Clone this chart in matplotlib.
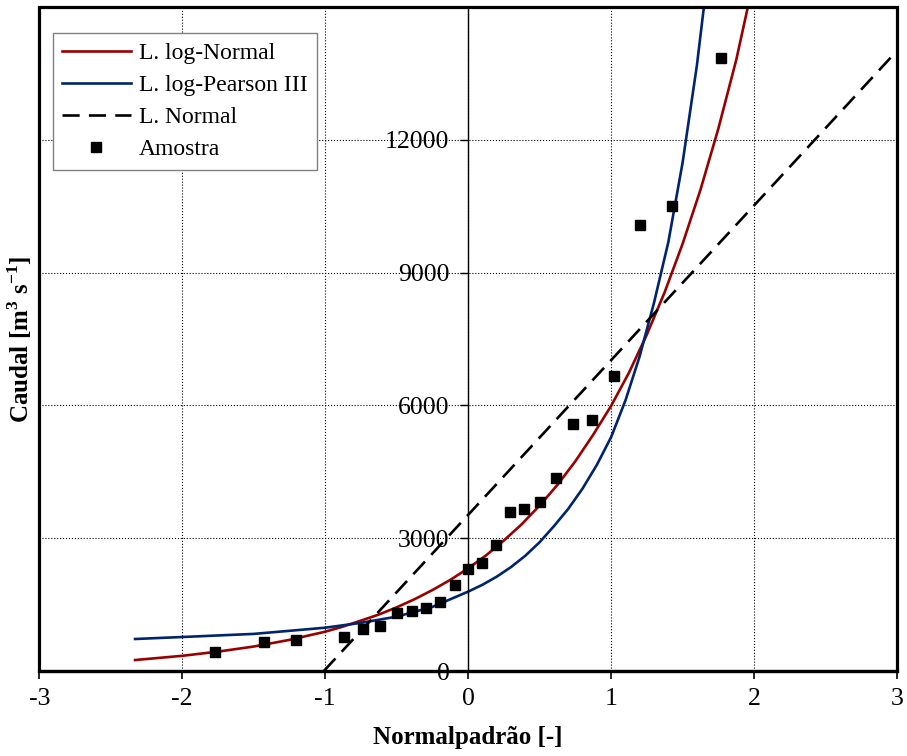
import numpy as np
import matplotlib
matplotlib.use("Agg")
import matplotlib.pyplot as plt
from matplotlib.patches import Rectangle

plt.rcParams['font.family'] = ['Liberation Serif', 'DejaVu Serif']
plt.rcParams['mathtext.fontset'] = 'custom'
plt.rcParams['mathtext.rm'] = 'Liberation Serif'
plt.rcParams['mathtext.bf'] = 'Liberation Serif:bold'
plt.rcParams['axes.unicode_minus'] = False

# ============================================
# DADOS
# ============================================
# Amostra: variavel normal padrao vs caudal
z_amostra = [-1.771, -1.426, -1.203, -0.871, -0.736, -0.617, -0.500, -0.395,
             -0.295, -0.197, -0.094, 0.0, 0.097, 0.192, 0.295, 0.392, 0.502,
             0.615, 0.735, 0.868, 1.020, 1.200, 1.428, 1.771]
q_amostra = [425, 651, 696, 764, 944, 1019, 1319, 1365,
             1419, 1568, 1952, 2300, 2436, 2842, 3588, 3656, 3827,
             4350, 5576, 5673, 6667, 10072, 10508, 13846]

# Lei log-Normal
z_lognormal = [-2.33, -2.0, -1.75, -1.5, -1.25, -1.0, -0.875, -0.75, -0.625,
               -0.5, -0.375, -0.25, -0.125, 0.0, 0.125, 0.25, 0.375, 0.5,
               0.625, 0.75, 0.875, 1.0, 1.125, 1.25, 1.375, 1.5, 1.625, 1.75,
               1.875, 1.96]
q_lognormal = [250, 345, 440, 555, 705, 890, 1006, 1140, 1277,
               1440, 1623, 1830, 2060, 2320, 2613, 2950, 3318, 3740,
               4207, 4740, 5340, 5990, 6740, 7600, 8560, 9650, 10870, 12250,
               13800, 15050]

# Lei log-Pearson III
z_lp3 = [-2.33, -2.0, -1.5, -1.0, -0.75, -0.5, -0.25, 0.0, 0.1, 0.2,
         0.3, 0.4, 0.5, 0.6, 0.7, 0.8, 0.9, 1.0, 1.1, 1.2,
         1.3, 1.4, 1.5, 1.6, 1.7]
q_lp3 = [725, 770, 840, 980, 1090, 1230, 1450, 1795, 1950, 2133,
         2350, 2606, 2911, 3273, 3664, 4121, 4656, 5284, 6109, 7112,
         8318, 9683, 11482, 13677, 16368]

# Lei Normal (recta)
z_normal = [-1.01, 3.0]
q_normal = [0, 14010]

# ============================================
# GRAFICO
# ============================================
fig = plt.figure(figsize=(9.07, 7.56), dpi=100)
ax = fig.add_axes([0.0433, 0.1123, 0.9457, 0.8785])

ax.plot(z_lognormal, q_lognormal, color='#990000', lw=1.9, label='L. log-Normal')
ax.plot(z_lp3, q_lp3, color='#00256e', lw=1.9, label='L. log-Pearson III')
ax.plot(z_normal, q_normal, color='black', lw=1.9, dashes=(6.5, 3.5), label='L. Normal')
ax.plot(z_amostra, q_amostra, 's', color='black', ms=7.5, label='Amostra', zorder=5)

ax.set_xlim(-3, 3)
ax.set_ylim(0, 15000)
ax.set_xticks([-3, -2, -1, 0, 1, 2, 3])
ax.set_yticks([0, 3000, 6000, 9000, 12000])

ax.grid(True, linestyle=':', color='black', lw=0.8)
ax.set_axisbelow(True)

# eixo y passa em x = 0
ax.spines['left'].set_position(('data', 0))
ax.spines['left'].set_linewidth(1.0)
ax.spines['top'].set_visible(False)
ax.spines['right'].set_visible(False)
ax.spines['bottom'].set_linewidth(2.3)
ax.add_patch(Rectangle((0, 0), 1, 1, transform=ax.transAxes, fill=False,
                       lw=2.3, edgecolor='black', clip_on=False, zorder=10))

ax.tick_params(axis='y', direction='out', length=5.5, width=1, pad=8, labelsize=18.5)
ax.tick_params(axis='x', direction='out', length=5.5, width=1.2, pad=7, labelsize=18.5)

fig.text(0.516, 0.024, 'Normalpadrão [-]', ha='center', va='center',
         fontsize=18, fontweight='bold')
fig.text(0.022, 0.551, r'Caudal [m$^{\mathbf{3}}$ s$^{\mathbf{-1}}$]', ha='center',
         va='center', rotation=90, fontsize=18, fontweight='bold')

leg = ax.legend(loc='upper left', bbox_to_anchor=(0.0156, 0.961), borderaxespad=0,
                fontsize=17, handlelength=2.9, numpoints=1, fancybox=False,
                framealpha=1, edgecolor='#808080', labelspacing=0.45,
                borderpad=0.4, handletextpad=0.35)
leg.get_frame().set_linewidth(1.0)
leg.set_zorder(20)

plt.savefig('out.png', dpi=100)
